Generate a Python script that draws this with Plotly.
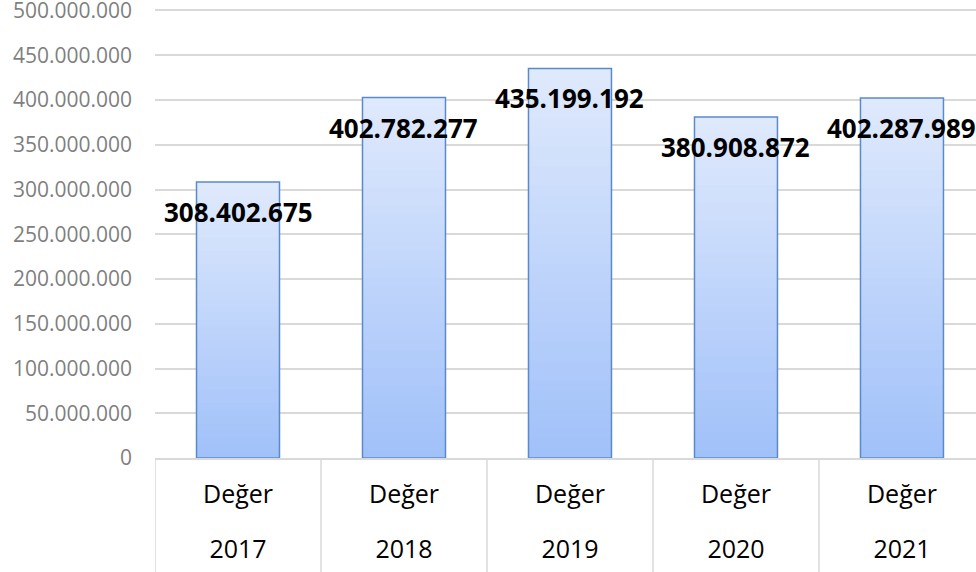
import plotly.graph_objects as go

years = [2017, 2018, 2019, 2020, 2021]
series_name = ["Değer", "Değer", "Değer", "Değer", "Değer"]
values = [308402675, 402782277, 435199192, 380908872, 402287989]
y_ticks = [0, 50000000, 100000000, 150000000, 200000000, 250000000,
           300000000, 350000000, 400000000, 450000000, 500000000]

TOP = (224, 234, 252)
BOTTOM = (160, 192, 249)
N = 40
GRID = "#d9d9d9"

W, H = 976, 572
Y_MAX = 505000000             # a little headroom so the 500M gridline/label show
M_T = 10 - 448 * (Y_MAX / 500000000 - 1)
M_B = 0
AXIS_BOTTOM_PX = 114          # height of the category band under the plot
Y_DOM0 = AXIS_BOTTOM_PX / (H - M_T - M_B)
YEAR_ROW_POS = 0.071


def fmt(v):
    return f"{v:,}".replace(",", ".")


fig = go.Figure()
# gradient fill: overlaid bars of decreasing height, darkening toward the base
for k in range(N, 0, -1):
    t = (k - 0.5) / N
    c = tuple(round(BOTTOM[i] + (TOP[i] - BOTTOM[i]) * t) for i in range(3))
    fig.add_trace(go.Bar(
        x=years, y=[v * k / N for v in values],
        width=0.5,
        marker=dict(color=f"rgb{c}", line=dict(width=0)),
        hoverinfo="skip", showlegend=False,
    ))
# outline
fig.add_trace(go.Bar(
    x=years, y=values, width=0.5, name="Değer",
    marker=dict(color="rgba(0,0,0,0)", line=dict(color="#5a8acb", width=1.5)),
    showlegend=False,
))
# invisible trace carrying the year row axis
fig.add_trace(go.Scatter(
    x=years, y=values, xaxis="x2", yaxis="y", mode="markers",
    marker=dict(opacity=0), hoverinfo="skip", showlegend=False,
))

for yr, v in zip(years, values):
    fig.add_annotation(
        x=yr, y=v, xref="x", yref="y", text=f"<b>{fmt(v)}</b>",
        showarrow=False, yshift=-30, xanchor="center", yanchor="middle",
        font=dict(family="Open Sans", size=26, color="#000000"),
    )

# category dividers
for yr in years + [years[-1] + 1]:
    fig.add_shape(type="line", xref="x", yref="paper",
                  x0=yr - 0.5, x1=yr - 0.5, y0=0, y1=Y_DOM0,
                  line=dict(color=GRID, width=1.5))

xrange = [years[0] - 0.5, years[0] - 0.5 + 4.946]

fig.update_layout(
    width=W, height=H,
    margin=dict(l=155, r=0, t=M_T, b=M_B, autoexpand=False),
    barmode="overlay",
    plot_bgcolor="white", paper_bgcolor="white",
    separators=",.",
    showlegend=False,
    xaxis=dict(
        range=xrange, tickvals=years, ticktext=series_name,
        showgrid=False, zeroline=False,
        showline=True, linecolor=GRID, linewidth=1.5,
        ticks="", ticklabelstandoff=13,
        tickfont=dict(family="Open Sans", size=25, color="#000000"),
        automargin=False,
    ),
    xaxis2=dict(
        overlaying="x", anchor="free", position=YEAR_ROW_POS, side="bottom",
        range=xrange, tickvals=years, ticktext=[str(y) for y in years],
        showgrid=False, zeroline=False, showline=False, ticks="",
        tickfont=dict(family="Open Sans", size=25, color="#000000"),
        automargin=False,
    ),
    yaxis=dict(
        domain=[Y_DOM0, 1],
        range=[0, Y_MAX],
        tickvals=y_ticks,
        tickformat=",.0f",
        showgrid=True, gridcolor=GRID, gridwidth=1.5,
        zeroline=False, showline=False,
        ticks="", ticklabelstandoff=22, ticklabeloverflow="allow",
        tickfont=dict(family="Open Sans", size=21, color="#7f7f7f"),
        automargin=False,
    ),
)

fig.write_html("out.html", config={"displayModeBar": False},
               post_script="document.body.style.margin='0';")
